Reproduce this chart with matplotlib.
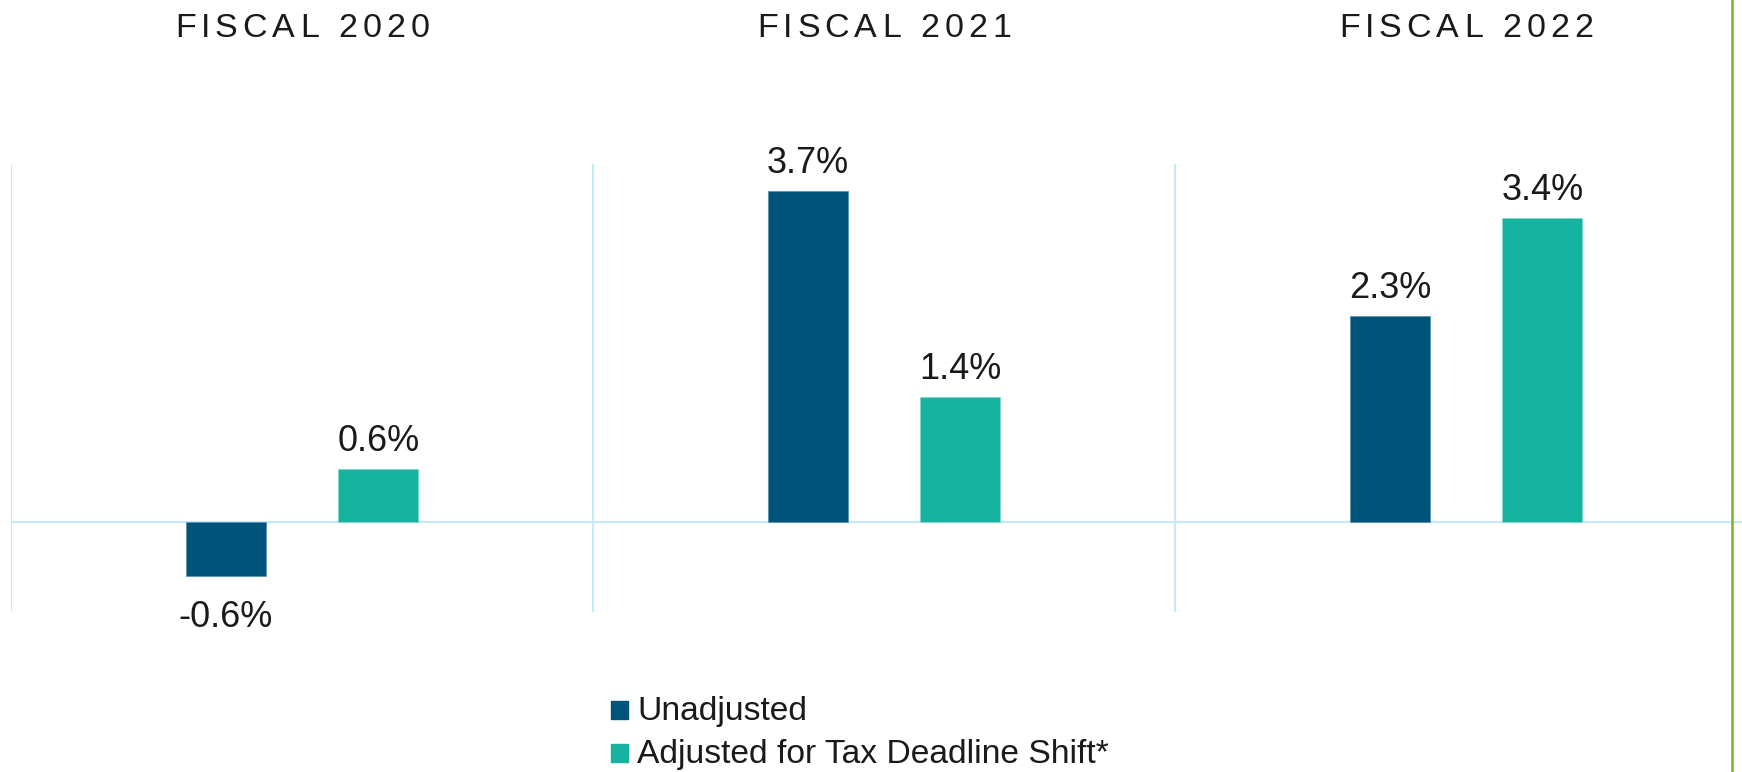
import matplotlib
matplotlib.use('Agg')

from matplotlib import pyplot as plt
from matplotlib.patches import Rectangle
from matplotlib.font_manager import FontProperties
import numpy as np

years = ['FISCAL 2020', 'FISCAL 2021', 'FISCAL 2022']
series = ['Unadjusted', 'Adjusted for Tax Deadline Shift*']
unadjusted = [-0.6, 3.7, 2.3]
adjusted = [0.6, 1.4, 3.4]

dark = '#00547a'
teal = '#16b4a0'
grid_blue = '#c6eaf9'
W, H = 1742, 772

plt.rcParams['font.family'] = ['Liberation Sans', 'DejaVu Sans']

fig = plt.figure(figsize=(W / 100.0, H / 100.0), dpi=100)
ax = fig.add_axes([11.0 / W, 1 - 612.0 / H, 1 - 11.0 / W, (612.0 - 164.0) / H])

x = np.arange(len(years))
bw = 0.1375
off = 0.131

b1 = ax.bar(x - off, unadjusted, bw, color=dark, edgecolor='#5c93b3', lw=0.6, zorder=3)
b2 = ax.bar(x + off, adjusted, bw, color=teal, edgecolor='#7fd6cb', lw=0.6, zorder=3)

ax.set_xlim(-0.5, (W - 11.0) / 582.0 - 0.5)
ax.set_ylim(-1, 4)
ax.axis('off')

for sep in [-0.5, 0.5, 1.5]:
    ax.axvline(sep, color=grid_blue, lw=1.5, zorder=1)
ax.axhline(0, color=grid_blue, lw=1.5, zorder=2)

# value labels
for bars, vals in [(b1, unadjusted), (b2, adjusted)]:
    for rect, v in zip(bars, vals):
        cx = rect.get_x() + rect.get_width() / 2.0
        if v >= 0:
            ax.annotate('%.1f%%' % v, (cx, v), xytext=(0, 13), textcoords='offset points',
                        ha='center', va='baseline', fontsize=26, color='#1a1a1a')
        else:
            ax.annotate('%.1f%%' % v, (cx, v), xytext=(0, -17), textcoords='offset points',
                        ha='center', va='top', fontsize=26, color='#1a1a1a')

# letter-spaced group titles
renderer = fig.canvas.get_renderer()
fp = FontProperties(family='Liberation Sans', size=24.5)
track = 5.0
for i, t in enumerate(years):
    widths = [renderer.get_text_width_height_descent(c, fp, ismath=False)[0] for c in t]
    total = sum(widths) + track * (len(t) - 1)
    cx_px = ax.transData.transform((x[i], 0))[0]
    pos = cx_px - total / 2.0
    for c, w in zip(t, widths):
        fig.text(pos / W, 1 - 37.0 / H, c, fontproperties=fp, ha='left', va='baseline',
                 color='#1a1a1a')
        pos += w + track

# legend
for j, (name, col) in enumerate(zip(series, [dark, teal])):
    cy = 709.5 + 43 * j
    fig.patches.append(Rectangle((611.0 / W, 1 - (cy + 9) / H), 17.0 / W, 18.0 / H,
                                 transform=fig.transFigure, color=col, figure=fig))
    fig.text(637.0 / W, 1 - (cy + 10.5) / H, name, fontsize=24.2, ha='left',
             va='baseline', color='#1a1a1a')

# green rule at right edge
fig.add_artist(plt.Line2D([1732.0 / W, 1732.0 / W], [0, 1], transform=fig.transFigure,
                          color='#79b51c', lw=1.8))

fig.savefig('out.png', dpi=100)
plt.close()
